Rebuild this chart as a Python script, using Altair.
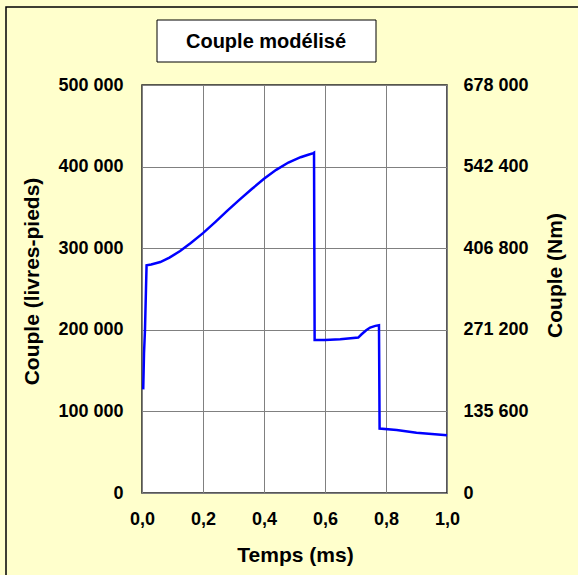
import altair as alt
import pandas as pd

# Data
temps = [0.004, 0.0066, 0.0098, 0.013, 0.015, 0.03, 0.06, 0.09, 0.125, 0.16, 0.2,
         0.24, 0.28, 0.32, 0.36, 0.40, 0.44, 0.48, 0.52, 0.545, 0.562, 0.564,
         0.566, 0.6, 0.65, 0.709, 0.72, 0.735, 0.748, 0.765, 0.777, 0.779,
         0.835, 0.9, 1.0]
couple = [127000, 171000, 200000, 249000, 279000, 280000, 283000, 288500, 296500, 306500, 318500,
          332000, 346000, 359500, 372500, 385000, 396000, 405000, 411500, 414500, 416500, 417000,
          187500, 187500, 188500, 190500, 194500, 199500, 202800, 204800, 205500, 79000,
          77200, 73900, 70700]

x_ticks = [0.0, 0.2, 0.4, 0.6, 0.8, 1.0]
y_ticks_lbft = [0, 100000, 200000, 300000, 400000, 500000]
y_ticks_nm = [0, 135600, 271200, 406800, 542400, 678000]
titre = "Couple modélisé"

df = pd.DataFrame({"t": temps, "c": couple})
df["nm"] = df["c"] * 1.356

FONT = "Liberation Sans"
PLOT_W, PLOT_H = 305, 408

x_enc = alt.X(
    "t:Q",
    scale=alt.Scale(domain=[0, 1], nice=False, zero=False),
    axis=alt.Axis(
        values=x_ticks, grid=True, ticks=False, tickSize=0, domain=False,
        labelExpr="replace(format(datum.value, '.1f'), '.', ',')",
        labelFlush=False, labelOverlap=False,
        labelPadding=26, labelFontSize=18, labelFont=FONT, labelFontWeight="bold",
        labelColor="black", labelBaseline="middle",
        title="Temps (ms)", titleFont=FONT, titleFontSize=21, titleFontWeight="bold",
        titleColor="black", titleX=153, titleY=62, titleBaseline="middle",
        titleAlign="center",
        gridColor="#808080", gridWidth=1, gridOpacity=1,
    ),
)

line = alt.Chart(df).mark_line(color="#0000FF", strokeWidth=2.5, clip=False).encode(
    x=x_enc,
    y=alt.Y(
        "c:Q",
        scale=alt.Scale(domain=[0, 500000], nice=False),
        axis=alt.Axis(
            values=y_ticks_lbft, grid=True, ticks=False, tickSize=0, domain=False,
            labelExpr="replace(format(datum.value, ','), ',', ' ')",
            labelFlush=False, labelOverlap=False,
            labelPadding=19, labelFontSize=18, labelFont=FONT, labelFontWeight="bold",
            labelColor="black",
            title="Couple (livres-pieds)", titleFont=FONT, titleFontSize=21,
            titleFontWeight="bold", titleColor="black", titleAngle=270,
            titleX=-110, titleY=196, titleBaseline="middle", titleAlign="center",
            gridColor="#808080", gridWidth=1, gridOpacity=1,
        ),
    ),
)

right = alt.Chart(df).mark_line(opacity=0).encode(
    x=alt.X("t:Q", scale=alt.Scale(domain=[0, 1], nice=False, zero=False)),
    y=alt.Y(
        "nm:Q",
        scale=alt.Scale(domain=[0, 678000], nice=False),
        axis=alt.Axis(
            orient="right", values=y_ticks_nm, grid=False, ticks=False, tickSize=0,
            domain=False,
            labelExpr="replace(format(datum.value, ','), ',', ' ')",
            labelFlush=False, labelOverlap=False,
            labelPadding=16, labelFontSize=18, labelFont=FONT, labelFontWeight="bold",
            labelColor="black",
            title="Couple (Nm)", titleFont=FONT, titleFontSize=21,
            titleFontWeight="bold", titleColor="black", titleAngle=270,
            titleX=108, titleY=190, titleBaseline="middle", titleAlign="center",
        ),
    ),
)

one = pd.DataFrame({"titre": [titre]})

outer_border = alt.Chart(one).mark_rect(
    fill=None, fillOpacity=0, stroke="black", strokeWidth=1.5, clip=False
).encode(
    x=alt.value(-136), x2=alt.value(460), y=alt.value(-78), y2=alt.value(500)
)

title_box = alt.Chart(one).mark_rect(
    fill="white", stroke="black", strokeWidth=1, clip=False
).encode(
    x=alt.value(15), x2=alt.value(234), y=alt.value(-65), y2=alt.value(-23)
)

title_text = alt.Chart(one).mark_text(
    font=FONT, fontSize=20, fontWeight="bold", color="black",
    align="center", baseline="middle", clip=False
).encode(
    x=alt.value(124), y=alt.value(-43), text="titre:N"
)

chart = (
    alt.layer(outer_border, title_box, title_text, line, right)
    .resolve_scale(y="independent")
    .properties(
        width=PLOT_W, height=PLOT_H,
        padding={"left": 142, "top": 85, "right": 131, "bottom": 82},
        autosize=alt.AutoSizeParams(type="none"),
        background="#FFFFCC",
    )
    .configure_view(fill="white", stroke="#202020", strokeWidth=1.5)
)

chart.save("out.html", embed_options={"renderer": "svg", "actions": False})
